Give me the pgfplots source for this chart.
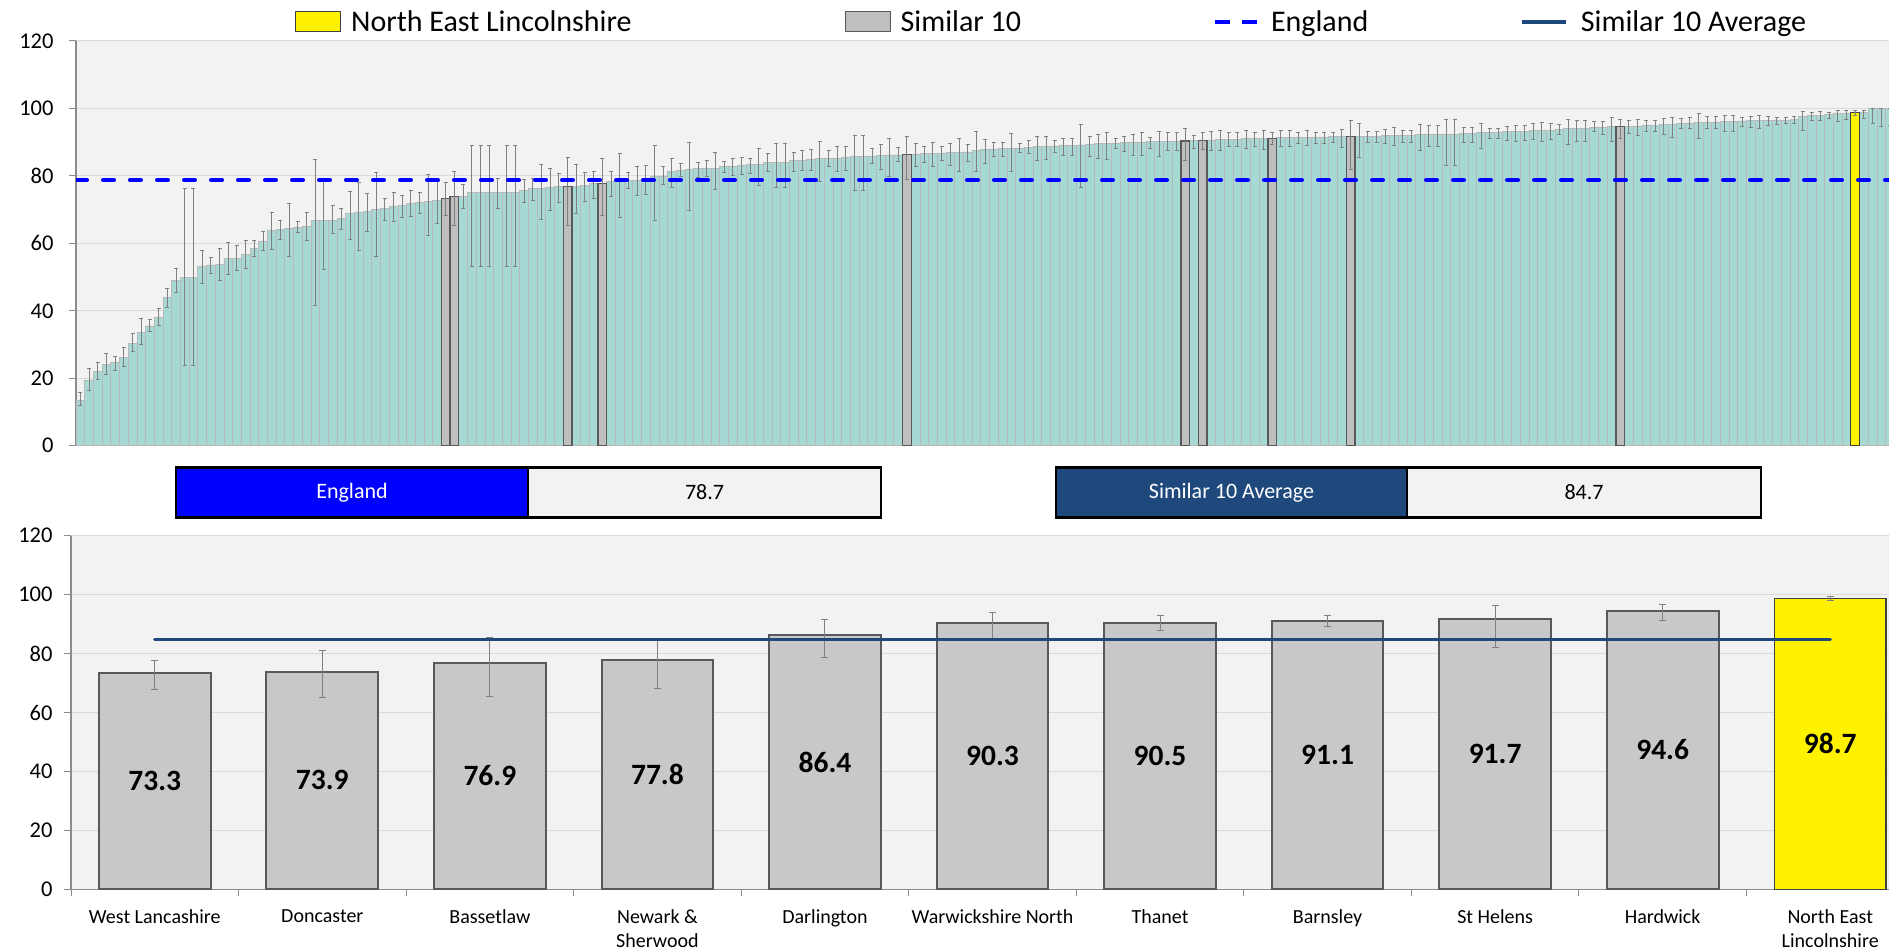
\documentclass[border=0pt]{standalone}
\usepackage{fontspec}
\setmainfont{Carlito}
\usepackage{pgfplots}
\usepackage{pgfplotstable}
\pgfplotsset{compat=1.18}

\definecolor{tealbar}{RGB}{167,217,212}
\definecolor{tealedge}{RGB}{185,185,185}
\definecolor{greybar}{RGB}{191,191,191}
\definecolor{greybar2}{RGB}{200,200,200}
\definecolor{greyedge}{RGB}{89,89,89}
\definecolor{plotbg}{RGB}{242,242,242}
\definecolor{gridc}{RGB}{217,217,217}
\definecolor{axisc}{RGB}{140,140,140}
\definecolor{errc}{RGB}{128,128,128}
\definecolor{engblue}{RGB}{0,0,255}
\definecolor{simnavy}{RGB}{31,73,125}

\newcommand\tickfont{\fontsize{22.5}{27}\selectfont}
\newcommand\legfont{\fontsize{30}{36}\selectfont}
\newcommand\catfont{\fontsize{20}{24}\selectfont}
\newcommand\valfont{\fontsize{29.5}{35}\selectfont\bfseries}
\newcommand\boxfont{\fontsize{22}{26}\selectfont}

% all areas, sorted; g: 0 other, 1 similar 10, 2 North East Lincolnshire
\pgfplotstableread{
k v lo hi g
0 13.5 11.8 15.8 0
1 19.5 16.5 23.0 0
2 22.0 19.5 24.8 0
3 24.1 21.0 27.3 0
4 24.6 22.4 26.5 0
5 26.1 23.4 29.1 0
6 30.3 27.9 33.3 0
7 33.5 30.0 37.6 0
8 35.5 33.8 37.3 0
9 38.1 35.5 40.6 0
10 43.9 40.9 46.6 0
11 49.1 45.5 52.5 0
12 49.9 23.7 76.4 0
13 49.9 23.7 76.4 0
14 53.1 48.1 57.8 0
15 53.6 51.1 55.7 0
16 53.8 48.9 58.6 0
17 55.5 50.9 60.2 0
18 55.6 51.9 59.3 0
19 56.7 52.4 60.8 0
20 58.5 56.2 60.8 0
21 60.7 57.8 63.5 0
22 63.8 58.2 69.2 0
23 64.1 61.2 66.7 0
24 64.4 56.0 71.9 0
25 64.7 63.2 66.4 0
26 65.1 60.8 69.1 0
27 66.7 41.7 84.9 0
28 66.7 52.3 78.3 0
29 66.9 63.0 71.1 0
30 67.4 64.1 70.2 0
31 68.9 61.2 75.4 0
32 69.1 58.0 78.0 0
33 69.4 63.4 74.8 0
34 70.2 56.2 81.0 0
35 70.4 66.7 73.4 0
36 71.1 66.5 75.0 0
37 71.2 67.6 74.3 0
38 71.9 67.9 75.6 0
39 72.1 68.9 75.2 0
40 72.4 62.3 80.5 0
41 72.8 65.9 78.2 0
42 73.3 68.2 78.0 1
43 73.9 65.2 81.2 1
44 74.0 70.4 77.4 0
45 75.0 53.1 88.9 0
46 75.0 53.1 88.9 0
47 75.0 53.1 88.9 0
48 75.0 70.4 79.1 0
49 75.0 53.1 88.9 0
50 75.0 53.1 88.9 0
51 75.6 72.2 78.8 0
52 76.2 72.7 79.2 0
53 76.3 67.2 83.3 0
54 76.6 69.6 82.3 0
55 76.9 72.2 80.8 0
56 76.9 65.4 85.5 1
57 77.0 68.9 83.3 0
58 77.2 72.5 81.0 0
59 77.8 73.3 81.4 0
60 77.8 68.2 85.2 1
61 78.3 74.0 81.4 0
62 78.3 67.6 86.6 0
63 78.6 76.3 81.0 0
64 78.8 74.3 82.7 0
65 79.0 74.5 83.0 0
66 79.8 66.9 88.9 0
67 80.0 77.5 82.7 0
68 81.2 76.6 85.3 0
69 81.6 79.8 83.7 0
70 81.9 69.7 89.8 0
71 82.1 79.6 83.9 0
72 82.2 79.8 84.5 0
73 82.2 76.0 86.9 0
74 82.7 81.0 84.4 0
75 82.9 80.1 85.2 0
76 83.1 80.3 85.5 0
77 83.3 80.8 85.2 0
78 83.3 77.2 88.2 0
79 83.9 81.2 86.5 0
80 84.1 76.6 89.5 0
81 84.1 76.6 89.5 0
82 84.5 81.2 86.9 0
83 84.7 81.7 87.5 0
84 84.9 81.7 87.9 0
85 85.1 78.3 90.3 0
86 85.3 82.9 87.5 0
87 85.3 81.2 88.7 0
88 85.4 81.5 88.7 0
89 85.7 75.8 92.1 0
90 85.7 75.8 92.1 0
91 85.9 83.7 88.2 0
92 86.1 81.9 89.3 0
93 86.2 79.8 91.1 0
94 86.2 84.2 88.3 0
95 86.4 78.8 91.6 1
96 86.5 82.9 89.7 0
97 86.7 84.1 88.7 0
98 86.7 82.7 89.9 0
99 86.8 84.5 88.7 0
100 86.9 83.2 89.7 0
101 87.0 81.2 91.0 0
102 87.1 84.4 89.4 0
103 87.5 81.2 93.1 0
104 87.9 83.7 90.8 0
105 88.0 85.7 89.9 0
106 88.1 85.7 90.0 0
107 88.2 81.2 92.6 0
108 88.3 86.9 89.5 0
109 88.5 86.5 90.4 0
110 88.7 84.5 91.6 0
111 88.7 85.0 91.6 0
112 88.9 86.9 90.6 0
113 89.0 86.1 91.2 0
114 89.1 86.1 91.2 0
115 89.2 76.5 95.1 0
116 89.4 85.7 91.8 0
117 89.5 85.2 92.4 0
118 89.6 84.9 92.8 0
119 89.7 88.2 91.1 0
120 89.8 87.2 91.6 0
121 89.9 86.1 92.4 0
122 90.0 85.9 92.8 0
123 90.1 88.2 91.4 0
124 90.1 85.7 93.3 0
125 90.2 87.5 92.9 0
126 90.2 87.5 92.9 0
127 90.3 84.7 94.0 1
128 90.4 88.2 92.1 0
129 90.5 87.7 92.9 1
130 90.6 87.5 93.2 0
131 90.8 87.4 93.6 0
132 90.9 88.7 92.8 0
133 90.9 88.7 92.8 0
134 91.0 88.0 93.4 0
135 91.0 88.8 92.8 0
136 91.1 87.9 93.6 0
137 91.1 89.2 93.0 1
138 91.3 88.7 93.6 0
139 91.4 88.7 93.6 0
140 91.4 89.7 92.8 0
141 91.5 88.9 93.6 0
142 91.5 89.7 93.0 0
143 91.5 89.7 92.8 0
144 91.6 89.9 92.8 0
145 91.6 88.4 93.8 0
146 91.7 81.9 96.4 1
147 91.7 85.5 95.4 0
148 91.8 90.0 93.2 0
149 91.8 90.0 93.2 0
150 91.9 89.7 93.8 0
151 92.0 89.0 94.2 0
152 92.0 90.0 93.6 0
153 92.1 90.0 93.6 0
154 92.2 87.4 95.3 0
155 92.2 88.7 94.8 0
156 92.2 88.7 94.8 0
157 92.3 83.2 96.8 0
158 92.3 83.2 96.8 0
159 92.6 90.0 94.2 0
160 92.6 90.0 94.2 0
161 92.8 88.2 95.4 0
162 93.0 91.0 94.0 0
163 93.0 91.0 94.0 0
164 93.1 90.6 94.6 0
165 93.1 90.1 95.0 0
166 93.2 90.6 95.0 0
167 93.4 90.8 95.4 0
168 93.5 90.2 95.8 0
169 93.6 90.8 95.6 0
170 93.8 92.2 95.2 0
171 94.0 89.2 96.8 0
172 94.1 90.3 96.4 0
173 94.1 90.3 96.4 0
174 94.3 93.1 96.0 0
175 94.4 92.3 96.2 0
176 94.6 90.1 97.4 0
177 94.6 91.2 96.7 1
178 94.7 92.6 96.4 0
179 94.8 92.0 96.8 0
180 94.9 93.1 96.4 0
181 95.0 93.3 96.4 0
182 95.2 92.4 97.0 0
183 95.4 91.4 97.4 0
184 95.6 94.1 97.1 0
185 95.7 94.1 97.2 0
186 95.8 91.1 98.5 0
187 96.0 94.0 97.6 0
188 96.0 94.0 97.6 0
189 96.2 93.1 98.0 0
190 96.2 93.1 98.0 0
191 96.3 94.6 97.4 0
192 96.4 94.4 97.6 0
193 96.4 94.1 98.0 0
194 96.5 94.8 97.6 0
195 96.6 95.1 97.4 0
196 96.6 95.4 97.4 0
197 96.8 95.4 97.6 0
198 97.6 93.6 99.0 0
199 98.0 96.4 98.9 0
200 98.0 96.4 99.0 0
201 98.2 97.0 98.8 0
202 98.4 96.0 99.5 0
203 98.6 96.8 99.5 0
204 98.7 97.9 99.4 2
205 98.9 97.1 99.5 0
206 99.9 95.6 100.0 0
207 99.9 94.6 100.0 0
208 100.0 95.0 100.0 0
}\ccgdata

% the similar 10 and North East Lincolnshire
\pgfplotstableread{
x v lo hi g
0 73.3 67.9 77.8 1
1 73.9 65.2 80.9 1
2 76.9 65.4 85.3 1
3 77.8 68.2 85.0 1
4 86.4 78.8 91.6 1
5 90.3 84.7 94.0 1
6 90.5 87.7 92.9 1
7 91.1 89.2 93.0 1
8 91.7 81.9 96.4 1
9 94.6 91.2 96.7 1
10 98.7 97.9 99.4 2
}\simdata

\pgfplotsset{
  onlygroup/.style={restrict expr to domain={\thisrow{g}}{#1:#1}},
  excelaxis/.style={
    scale only axis,
    ymin=0, ymax=120,
    ytick={0,20,...,120},
    axis lines*=left,
    ymajorgrids, grid style={gridc, line width=1pt},
    axis background/.style={fill=plotbg},
    tick align=outside, major tick length=7pt,
    ytick style={axisc, line width=1pt},
    y axis line style={axisc, line width=1.2pt},
    yticklabel style={font=\tickfont, xshift=-12pt},
    /pgf/number format/assume math mode=true,
    enlargelimits=false,
  },
  errstyle/.style={error bars/.cd, y dir=both, y explicit,
    error bar style={errc, line width=1pt},
    error mark options={rotate=90, errc, line width=1pt, mark size=#1}},
}

\begin{document}
\begin{tikzpicture}
\useasboundingbox (0,0) rectangle (1889pt,949pt);

% ---------- top: all areas ----------
\begin{axis}[excelaxis,
  at={(76pt,503.3pt)}, anchor=south west,
  width=1818.3pt, height=404.7pt,
  xmin=-0.5, xmax=208.5,
  xtick=\empty,
  x axis line style={gridc, line width=1.2pt},
  legend columns=-1,
  legend cell align=left,
  legend style={at={(0.1204,1.047)}, anchor=west, draw=none, fill=none,
    inner sep=0pt, column sep=0pt, font=\legfont, nodes={inner sep=0pt}},
]
\addplot[ybar, bar width=1, bar shift=0pt, fill=tealbar, draw=tealedge, line width=0.7pt,
  onlygroup=0, forget plot, errstyle=2pt]
  table[x=k, y=v, y error plus expr=\thisrow{hi}-\thisrow{v}, y error minus expr=\thisrow{v}-\thisrow{lo}] {\ccgdata};
\addplot[ybar, bar width=1, bar shift=0pt, fill=greybar, draw=greyedge, line width=1.3pt,
  onlygroup=1, forget plot, errstyle=2pt]
  table[x=k, y=v, y error plus expr=\thisrow{hi}-\thisrow{v}, y error minus expr=\thisrow{v}-\thisrow{lo}] {\ccgdata};
\addplot[ybar, bar width=1, bar shift=0pt, fill=yellow, draw=black!75, line width=1pt,
  onlygroup=2, forget plot, errstyle=2pt]
  table[x=k, y=v, y error plus expr=\thisrow{hi}-\thisrow{v}, y error minus expr=\thisrow{v}-\thisrow{lo}] {\ccgdata};
\addplot[engblue, line width=4pt, dash pattern=on 11pt off 16pt, line cap=round, forget plot]
  coordinates {(-0.5,78.7) (208.5,78.7)};

\addlegendimage{legend image code/.code={\draw[fill=yellow, draw=black!75, line width=1pt] (0pt,-10pt) rectangle (45pt,10pt);}}
\addlegendentry{\hspace*{10pt}North East Lincolnshire\hspace*{213pt}\mbox{}}
\addlegendimage{legend image code/.code={\draw[fill=greybar, draw=greyedge, line width=1pt] (0pt,-10pt) rectangle (45pt,10pt);}}
\addlegendentry{\hspace*{10pt}Similar 10\hspace*{192pt}\mbox{}}
\addlegendimage{legend image code/.code={\draw[engblue, line width=4pt] (0pt,0pt) -- (15pt,0pt) (27pt,0pt) -- (42pt,0pt);}}
\addlegendentry{\hspace*{12pt}England\hspace*{152pt}\mbox{}}
\addlegendimage{legend image code/.code={\draw[simnavy, line width=3.5pt] (0pt,0pt) -- (44pt,0pt);}}
\addlegendentry{\hspace*{13pt}Similar 10 Average}
\end{axis}

% ---------- summary boxes ----------
\begin{scope}[every node/.style={draw=black, line width=2.5pt, minimum height=50pt, inner sep=0pt, font=\boxfont}]
\node[fill=engblue, text=white, minimum width=352pt] at (352pt,456.5pt) {England};
\node[fill=plotbg, minimum width=353pt] at (704.5pt,456.5pt) {78.7};
\node[fill=simnavy, text=white, minimum width=351pt] at (1231.5pt,456.5pt) {Similar 10 Average};
\node[fill=plotbg, minimum width=354pt] at (1584pt,456.5pt) {84.7};
\end{scope}

% ---------- bottom: similar 10 ----------
\begin{axis}[excelaxis,
  at={(71pt,59.7pt)}, anchor=south west,
  width=1843pt, height=353.6pt,
  xmin=-0.5, xmax=10.5,
  xtick={-0.5,0.5,...,10.5},
  x tick label as interval,
  xticklabels={West Lancashire, Doncaster, Bassetlaw, {Newark \&\\Sherwood}, Darlington,
    Warwickshire North, Thanet, Barnsley, St Helens, Hardwick, {North East\\Lincolnshire}},
  xticklabel style={font=\catfont, align=center, yshift=-9.6pt},
  xtick style={axisc, line width=1pt},
  x axis line style={axisc, line width=1.2pt},
  yticklabel style={xshift=4pt},
]
\addplot[ybar, bar width=0.667, bar shift=0pt, fill=greybar2, draw=greyedge, line width=2pt,
  onlygroup=1, errstyle=3.5pt]
  table[x=x, y=v, y error plus expr=\thisrow{hi}-\thisrow{v}, y error minus expr=\thisrow{v}-\thisrow{lo}] {\simdata};
\addplot[ybar, bar width=0.667, bar shift=0pt, fill=yellow, draw=black!75, line width=1.3pt,
  onlygroup=2, errstyle=3.5pt]
  table[x=x, y=v, y error plus expr=\thisrow{hi}-\thisrow{v}, y error minus expr=\thisrow{v}-\thisrow{lo}] {\simdata};
\addplot[simnavy, line width=3.5pt, line cap=round] coordinates {(0,84.7) (10,84.7)};
\addplot[only marks, mark=none, point meta=explicit symbolic,
  nodes near coords, every node near coord/.append style={font=\valfont, anchor=center, inner sep=0pt}]
  table[x=x, y expr=\thisrow{v}/2, meta=v] {\simdata};
\end{axis}
\end{tikzpicture}
\end{document}
